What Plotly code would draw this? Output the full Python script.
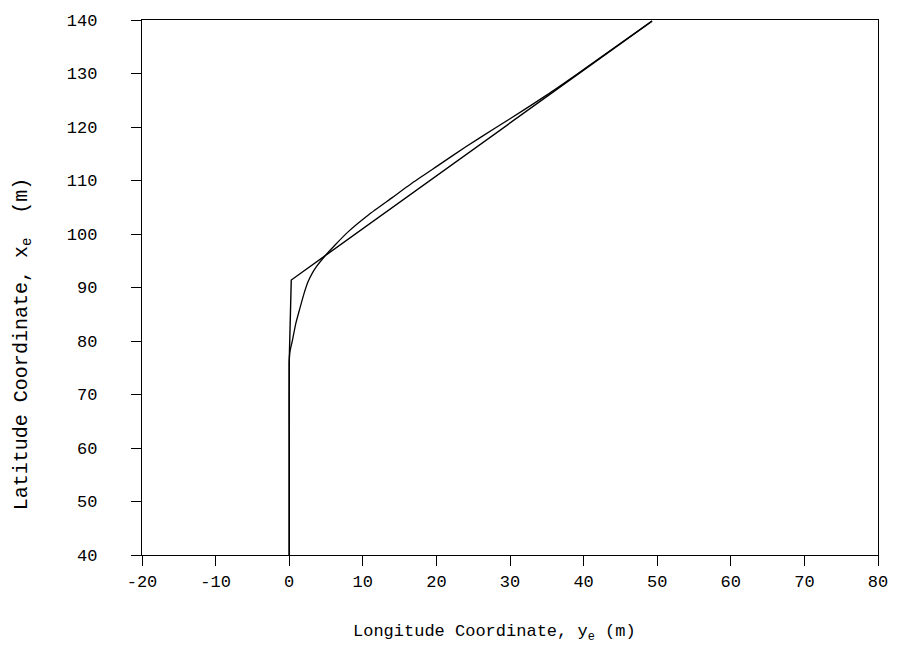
import plotly.graph_objects as go

# Piecewise-linear reference path (y_e, x_e)
path_y = [0.0, 0.0, 0.28, 49.3]
path_x = [40.0, 76.0, 91.4, 139.8]

# Smooth trajectory (y_e, x_e)
traj_y = [0.0, 0.0, 0.0, 0.1, 0.42, 0.9, 1.45, 2.0, 2.57, 3.1, 3.7, 4.8, 6.2, 8.0,
          10.8, 14.0, 17.0, 20.0, 24.0, 28.0, 32.0, 36.0, 42.0, 49.3]
traj_x = [40.0, 60.0, 76.0, 78.0, 80.0, 83.3, 86.1, 88.8, 91.1, 92.6, 93.9, 95.8, 97.9, 100.4,
          103.6, 106.8, 109.8, 112.6, 116.3, 119.8, 123.3, 126.9, 132.7, 139.8]

xticks = [-20, -10, 0, 10, 20, 30, 40, 50, 60, 70, 80]
yticks = [40, 50, 60, 70, 80, 90, 100, 110, 120, 130, 140]

x_title = "Longitude Coordinate, y<sub>e</sub> (m)"
y_title = "Latitude Coordinate, x<sub>e</sub>  (m)"

fig = go.Figure()
fig.add_trace(go.Scatter(x=path_y, y=path_x, mode="lines",
                         line=dict(color="black", width=1.4), showlegend=False))
fig.add_trace(go.Scatter(x=traj_y, y=traj_x, mode="lines", line_shape="spline",
                         line=dict(color="black", width=1.3, smoothing=0.5), showlegend=False))

font_family = "Liberation Mono"
axis_common = dict(showgrid=False, zeroline=False, showline=True, linecolor="black",
                   linewidth=1.4, mirror=True, ticks="outside", ticklen=10, tickwidth=1.2,
                   tickcolor="black", tickfont=dict(family=font_family, size=17, color="black"))

fig.update_xaxes(range=[-20, 80], tickvals=xticks,
                 ticktext=[str(v) for v in xticks], ticklabelstandoff=0,
                 **axis_common)
fig.update_yaxes(range=[40, 140], tickvals=yticks, ticktext=[str(v) for v in yticks],
                 ticklabelstandoff=30,
                 **axis_common)

fig.add_annotation(text=x_title, xref="paper", yref="paper", x=0.479, y=-0.1466,
                   xanchor="center", yanchor="middle", showarrow=False,
                   font=dict(family=font_family, size=17, color="black"))
fig.add_annotation(text=y_title, xref="paper", yref="paper", x=-0.1624, y=0.395,
                   xanchor="center", yanchor="middle", showarrow=False, textangle=-90,
                   font=dict(family=font_family, size=20, color="black"))

fig.update_layout(width=900, height=658, margin=dict(l=142, r=19, t=16, b=103),
                  paper_bgcolor="white", plot_bgcolor="white",
                  font=dict(family=font_family, color="black"))

fig.write_html("out.html")
